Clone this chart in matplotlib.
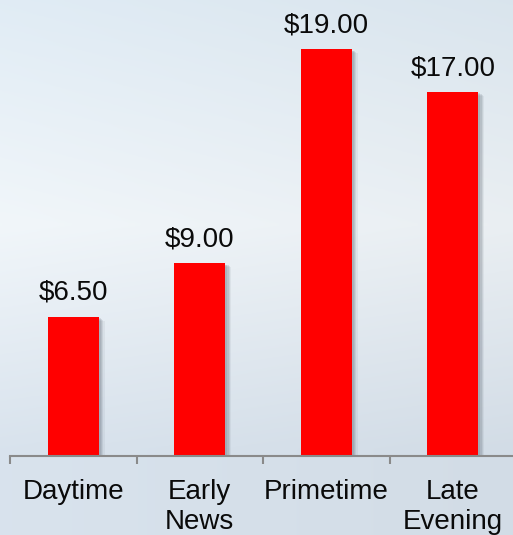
import numpy as np
import matplotlib
matplotlib.use('Agg')
import matplotlib.pyplot as plt
import matplotlib.patheffects as pe

# Average spot cost by daypart
dayparts = ['Daytime', 'Early\nNews', 'Primetime', 'Late\nEvening']
cost = [6.50, 9.00, 19.00, 17.00]

plt.rcParams['font.family'] = ['Liberation Sans', 'DejaVu Sans']

fig = plt.figure(figsize=(5.13, 5.35), dpi=100)

# soft blue backdrop, lighter towards the upper left
bg = fig.add_axes([0, 0, 1, 1], zorder=0)
yy, xx = np.mgrid[0:1:300j, 0:1:300j]
top = np.array([0.88, 0.925, 0.96])
mid = np.array([0.945, 0.965, 0.98])
bot = np.array([0.85, 0.89, 0.93])
w = np.clip(1 - np.abs(yy - 0.42) / 0.42, 0, 1)[..., None]
base = np.where(yy[..., None] < 0.42, top * (1 - w) + mid * w, bot * (1 - w) + mid * w)
shade = (1 - 0.03 * xx)[..., None]
bg.imshow(np.clip(base * shade, 0, 1), aspect='auto', extent=[0, 1, 1, 0])
bg.axis('off')

ax = fig.add_axes([10 / 513, 79 / 535, 506 / 513, 449.4 / 535], zorder=1)
ax.patch.set_visible(False)
x = np.arange(len(dayparts))

# fake a blurred drop shadow with a few stacked offsets
shadow = [pe.SimplePatchShadow(offset=(d, -d * 0.6), shadow_rgbFace='#5a6470', alpha=a)
          for d, a in [(4.5, 0.08), (3.5, 0.12), (2.5, 0.15), (1.5, 0.15)]]
bars = ax.bar(x, cost, width=0.4, color='#ff0000', zorder=3,
              path_effects=shadow + [pe.Normal()])

for xi, v in zip(x, cost):
    ax.annotate('${:.2f}'.format(v), (xi, v), xytext=(0, 8), textcoords='offset points',
                ha='center', va='bottom', fontsize=20, color='#0a0a0a')

ax.set_xlim(-0.5, 3.5)
ax.set_ylim(0, 21)
for s in ['top', 'right', 'left']:
    ax.spines[s].set_visible(False)
ax.spines['bottom'].set_color('#8a8a8a')
ax.spines['bottom'].set_linewidth(1.5)
ax.spines['bottom'].set_zorder(4)
ax.set_yticks([])

ax.set_xticks(x)
ax.set_xticklabels(dayparts, fontsize=20, color='#0a0a0a', linespacing=1.2)
ax.tick_params(axis='x', which='major', length=0, pad=16.5)
ax.set_xticks(np.arange(-0.5, 4, 1), minor=True)
ax.tick_params(axis='x', which='minor', length=6, width=1.5, color='#8a8a8a')

fig.savefig('out.png', dpi=100)
